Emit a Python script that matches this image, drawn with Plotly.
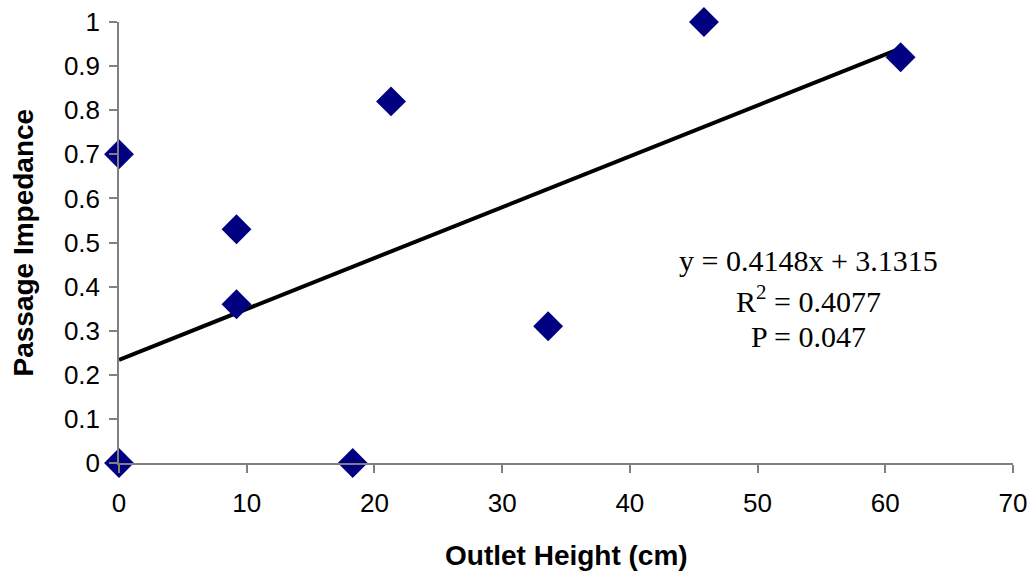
import plotly.graph_objects as go

# Data
outlet_height = [0, 0, 9.2, 9.2, 18.3, 21.3, 33.6, 45.8, 61.2]
passage_impedance = [0.70, 0.0, 0.53, 0.36, 0.0, 0.82, 0.31, 1.00, 0.92]

trend_x = [0, 61.2]
trend_y = [0.234, 0.940]

x_ticks = [0, 10, 20, 30, 40, 50, 60, 70]
y_ticks = [0, 0.1, 0.2, 0.3, 0.4, 0.5, 0.6, 0.7, 0.8, 0.9, 1]
y_tick_labels = ["0", "0.1", "0.2", "0.3", "0.4", "0.5", "0.6", "0.7", "0.8", "0.9", "1"]

eq_lines = ["y = 0.4148x + 3.1315", "R<sup>2</sup> = 0.4077", "P = 0.047"]
eq_x = 54.0
eq_y = [0.460, 0.372, 0.286]

fig = go.Figure()
fig.add_trace(go.Scatter(
    x=trend_x, y=trend_y, mode="lines",
    line=dict(color="black", width=4), showlegend=False, hoverinfo="skip",
))
fig.add_trace(go.Scatter(
    x=outlet_height, y=passage_impedance, mode="markers",
    marker=dict(symbol="diamond", size=23, color="#000080", line=dict(width=0)),
    showlegend=False, cliponaxis=False,
))

for txt, yy in zip(eq_lines, eq_y):
    fig.add_annotation(x=eq_x, y=yy, xref="x", yref="y", text=txt, showarrow=False,
                       font=dict(family="Liberation Serif, Times New Roman, serif", size=30, color="black"),
                       xanchor="center", yanchor="middle")

fig.add_annotation(x=0.5, y=0, xref="paper", yref="paper", text="<b>Outlet Height (cm)</b>",
                   showarrow=False, yshift=-92, xanchor="center", yanchor="middle",
                   font=dict(family="Liberation Sans, Arial, sans-serif", size=28, color="black"))
fig.add_annotation(x=0, y=0.5, xref="paper", yref="paper", text="<b>Passage Impedance</b>",
                   showarrow=False, xshift=-96, textangle=-90, xanchor="center", yanchor="middle",
                   font=dict(family="Liberation Sans, Arial, sans-serif", size=28, color="black"))

axis_common = dict(
    showgrid=False, zeroline=False, showline=True, linecolor="#808080", linewidth=1.5,
    ticks="outside", ticklen=8, tickcolor="#808080", tickwidth=1.5, automargin=False,
    tickfont=dict(family="Liberation Sans, Arial, sans-serif", size=26, color="black"),
)
fig.update_xaxes(range=[0, 70], tickvals=x_ticks, ticktext=[str(v) for v in x_ticks],
                 ticklabelstandoff=8, **axis_common)
fig.update_yaxes(range=[0, 1], tickvals=y_ticks, ticktext=y_tick_labels,
                 ticklabelstandoff=4, **axis_common)

fig.update_layout(
    width=1034, height=571,
    margin=dict(l=119, r=21, t=22, b=108, pad=0),
    plot_bgcolor="white", paper_bgcolor="white",
)

fig.write_html("out.html")
